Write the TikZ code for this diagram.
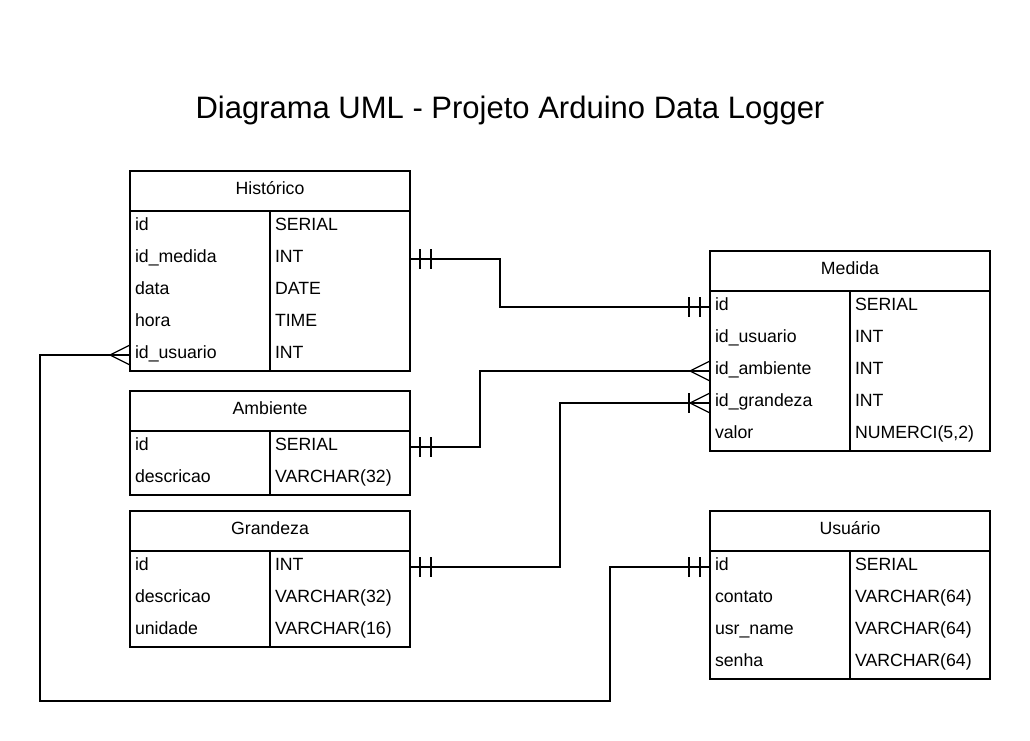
\documentclass[tikz,border=0pt]{standalone}
\usepackage{fontspec}
\setmainfont{Liberation Sans}
\usetikzlibrary{positioning,decorations.markings}
\newcommand{\cellfont}{\fontsize{17.7}{20}\selectfont}
\tikzstyle{tabhead} = [draw, minimum width=280pt, minimum height=40pt, outer sep=0pt, text height=12.5pt, text depth=5pt, font=\cellfont]
\tikzstyle{cell} = [minimum height=32pt, text width=130pt, inner xsep=5pt, inner ysep=0pt, outer sep=0pt, align=left, text height=12.5pt, text depth=5pt, font=\cellfont]
\tikzstyle{link} = [draw]
\tikzstyle{oneS} = [postaction={decorate, decoration={markings,
  mark=at position 10pt with {\draw (0,-10) -- (0,10);},
  mark=at position 21pt with {\draw (0,-10) -- (0,10);}}}]
\tikzstyle{oneE} = [postaction={decorate, decoration={markings,
  mark=at position -10pt with {\draw (0,-10) -- (0,10);},
  mark=at position -21pt with {\draw (0,-10) -- (0,10);}}}]
\tikzstyle{manyE} = [postaction={decorate, decoration={markings,
  mark=at position -20pt with {\draw (20,-10) -- (0,0) -- (20,10);}}}]
\tikzstyle{onemanyE} = [postaction={decorate, decoration={markings,
  mark=at position -21pt with {\draw (0,-10) -- (0,10);},
  mark=at position -20pt with {\draw (20,-10) -- (0,0) -- (20,10);}}}]

\begin{document}
\begin{tikzpicture}[x=1pt, y=-1pt, line width=1.3pt]
\useasboundingbox (0,0) rectangle (1030,741);

\node (title) at (510,110) {\fontsize{31}{36}\selectfont Diagrama UML - Projeto Arduino Data Logger};

% Historico
\node (hist) [tabhead] at (270,191) {Histórico};
\node (hist-1) [cell, anchor=north west] at (hist.south west) {id};
\node (hist-1t) [cell, right=0pt of hist-1] {SERIAL};
\node (hist-2) [cell, below=0pt of hist-1] {id\_medida};
\node (hist-2t) [cell, right=0pt of hist-2] {INT};
\node (hist-3) [cell, below=0pt of hist-2] {data};
\node (hist-3t) [cell, right=0pt of hist-3] {DATE};
\node (hist-4) [cell, below=0pt of hist-3] {hora};
\node (hist-4t) [cell, right=0pt of hist-4] {TIME};
\node (hist-5) [cell, below=0pt of hist-4] {id\_usuario};
\node (hist-5t) [cell, right=0pt of hist-5] {INT};
\draw (hist-1.north west) rectangle (hist-5t.south east);
\draw (hist-1t.north west) -- (hist-5t.south west);

% Ambiente
\node (amb) [tabhead] at (270,411) {Ambiente};
\node (amb-1) [cell, anchor=north west] at (amb.south west) {id};
\node (amb-1t) [cell, right=0pt of amb-1] {SERIAL};
\node (amb-2) [cell, below=0pt of amb-1] {descricao};
\node (amb-2t) [cell, right=0pt of amb-2] {VARCHAR(32)};
\draw (amb-1.north west) rectangle (amb-2t.south east);
\draw (amb-1t.north west) -- (amb-2t.south west);

% Grandeza
\node (gra) [tabhead] at (270,531) {Grandeza};
\node (gra-1) [cell, anchor=north west] at (gra.south west) {id};
\node (gra-1t) [cell, right=0pt of gra-1] {INT};
\node (gra-2) [cell, below=0pt of gra-1] {descricao};
\node (gra-2t) [cell, right=0pt of gra-2] {VARCHAR(32)};
\node (gra-3) [cell, below=0pt of gra-2] {unidade};
\node (gra-3t) [cell, right=0pt of gra-3] {VARCHAR(16)};
\draw (gra-1.north west) rectangle (gra-3t.south east);
\draw (gra-1t.north west) -- (gra-3t.south west);

% Medida
\node (med) [tabhead] at (850,271) {Medida};
\node (med-1) [cell, anchor=north west] at (med.south west) {id};
\node (med-1t) [cell, right=0pt of med-1] {SERIAL};
\node (med-2) [cell, below=0pt of med-1] {id\_usuario};
\node (med-2t) [cell, right=0pt of med-2] {INT};
\node (med-3) [cell, below=0pt of med-2] {id\_ambiente};
\node (med-3t) [cell, right=0pt of med-3] {INT};
\node (med-4) [cell, below=0pt of med-3] {id\_grandeza};
\node (med-4t) [cell, right=0pt of med-4] {INT};
\node (med-5) [cell, below=0pt of med-4] {valor};
\node (med-5t) [cell, right=0pt of med-5] {NUMERCI(5,2)};
\draw (med-1.north west) rectangle (med-5t.south east);
\draw (med-1t.north west) -- (med-5t.south west);

% Usuario
\node (usu) [tabhead] at (850,531) {Usuário};
\node (usu-1) [cell, anchor=north west] at (usu.south west) {id};
\node (usu-1t) [cell, right=0pt of usu-1] {SERIAL};
\node (usu-2) [cell, below=0pt of usu-1] {contato};
\node (usu-2t) [cell, right=0pt of usu-2] {VARCHAR(64)};
\node (usu-3) [cell, below=0pt of usu-2] {usr\_name};
\node (usu-3t) [cell, right=0pt of usu-3] {VARCHAR(64)};
\node (usu-4) [cell, below=0pt of usu-3] {senha};
\node (usu-4t) [cell, right=0pt of usu-4] {VARCHAR(64)};
\draw (usu-1.north west) rectangle (usu-4t.south east);
\draw (usu-1t.north west) -- (usu-4t.south west);

% relations
\path [link, oneS, oneE] (hist-2t.east) -- ++(90,0) |- (med-1.west);
\path [link, oneS, manyE] (amb-1t.east) -- ++(70,0) |- (med-3.west);
\path [link, oneS, onemanyE] (gra-1t.east) -- ++(150,0) |- (med-4.west);

\coordinate (c1) at (610,701);
\coordinate (c2) at (40,701);
\path [link, oneS, manyE] (usu-1.west) -| (c1) -- (c2) |- (hist-5.west);

\end{tikzpicture}
\end{document}
